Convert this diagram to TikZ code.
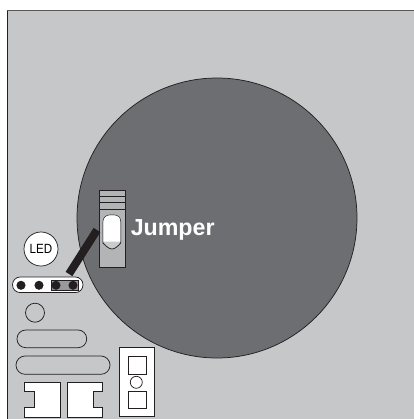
\documentclass[tikz,border=0pt]{standalone}
\usepackage{fontspec}
\setmainfont{Liberation Sans}
\definecolor{panel}{HTML}{C6C7C9}
\definecolor{disc}{HTML}{6D6E71}
\definecolor{housing}{HTML}{B3B4B6}
\definecolor{ink}{HTML}{231F20}
\tikzset{
  outl/.style={draw=ink,line width=0.55pt},
  whitepart/.style={outl,fill=white},
  pin/.style={circle,fill=ink,inner sep=0pt,minimum size=6.8pt}
}
\begin{document}
\begin{tikzpicture}[x=0.75pt,y=-0.75pt]
\useasboundingbox (0,0) rectangle (414,419);
\fill[white] (0,0) rectangle (414,419);
% panel
\fill[panel] (7.5,10.5) rectangle (414,419);
\draw[ink!75,line width=0.8pt] (7.5,10.5) -- (414,10.5);
\draw[ink,line width=0.9pt] (7.5,10.5) -- (7.5,419);
% disc
\path[outl,fill=disc] (217,218) circle[radius=140];
% jumper housing
\path[outl,fill=housing] (99.5,190) rectangle (125.7,267.7);
\draw[ink,line width=0.4pt] (99.5,196) -- (125.7,196) (99.5,202.5) -- (125.7,202.5) (99.5,209) -- (125.7,209);
% jumper cap
\path[outl,fill=housing!70!white] (103,222) .. controls (103,218) and (106,215) .. (110,215) -- (114,215) .. controls (118,215) and (120.7,218) .. (120.7,222) -- (120.7,243) .. controls (118,246) and (115,249) .. (112,249) .. controls (109,249) and (106,246) .. (103,243) -- cycle;
\fill[white] (103.3,222) .. controls (103.3,218) and (106,215.3) .. (110,215.3) -- (114,215.3) .. controls (118,215.3) and (120.4,218) .. (120.4,222) -- (120.4,241.7) -- (103.3,241.7) -- cycle;
% LED
\node[whitepart,circle,minimum size=25.5pt,inner sep=0pt,font=\fontsize{10}{10}\selectfont] (led) at (41,249) {\scalebox{0.87}[1]{LED}};
% connector strip
\path[whitepart,rounded corners=5.8pt] (12.5,277) rectangle (83,292.6);
\path[outl,fill=housing!85!black] (51,280.5) rectangle (78,290);
\node[pin] (p1) at (21,285.3) {};
\node[pin] (p2) at (39,285.3) {};
\node[pin] (p3) at (56,285.3) {};
\node[pin] (p4) at (73,285.3) {};
% black bar
\draw[ink,line width=6pt] (97,230) -- (69,274);
% label
\node[anchor=base west,inner sep=0pt,text=white,font=\fontsize{17.4}{17.4}\selectfont\bfseries] (lab) at (130.5,235) {Jumper};
% lower parts
\path[outl] (35,312.7) circle[radius=9.5];
\path[outl,rounded corners=6.5pt] (17,330) rectangle (86.7,347.7);
\path[outl,rounded corners=6.8pt] (16,356) rectangle (110,374.3);
\path[whitepart] (119.5,347.7) rectangle (154.7,416.7);
\path[outl] (128,356) rectangle (146,374);
\path[outl] (128,391) rectangle (146,408.3);
\path[outl] (136.3,382.3) circle[radius=6];
\path[whitepart] (24,382.3) -- (60,382.3) -- (60,417) -- (24,417) -- (24,407.3) -- (34,407.3) -- (34,391) -- (24,391) -- cycle;
\path[whitepart] (67.7,382.3) -- (102.7,382.3) -- (102.7,391) -- (93.3,391) -- (93.3,407.3) -- (102.7,407.3) -- (102.7,417) -- (67.7,417) -- cycle;
\end{tikzpicture}
\end{document}
